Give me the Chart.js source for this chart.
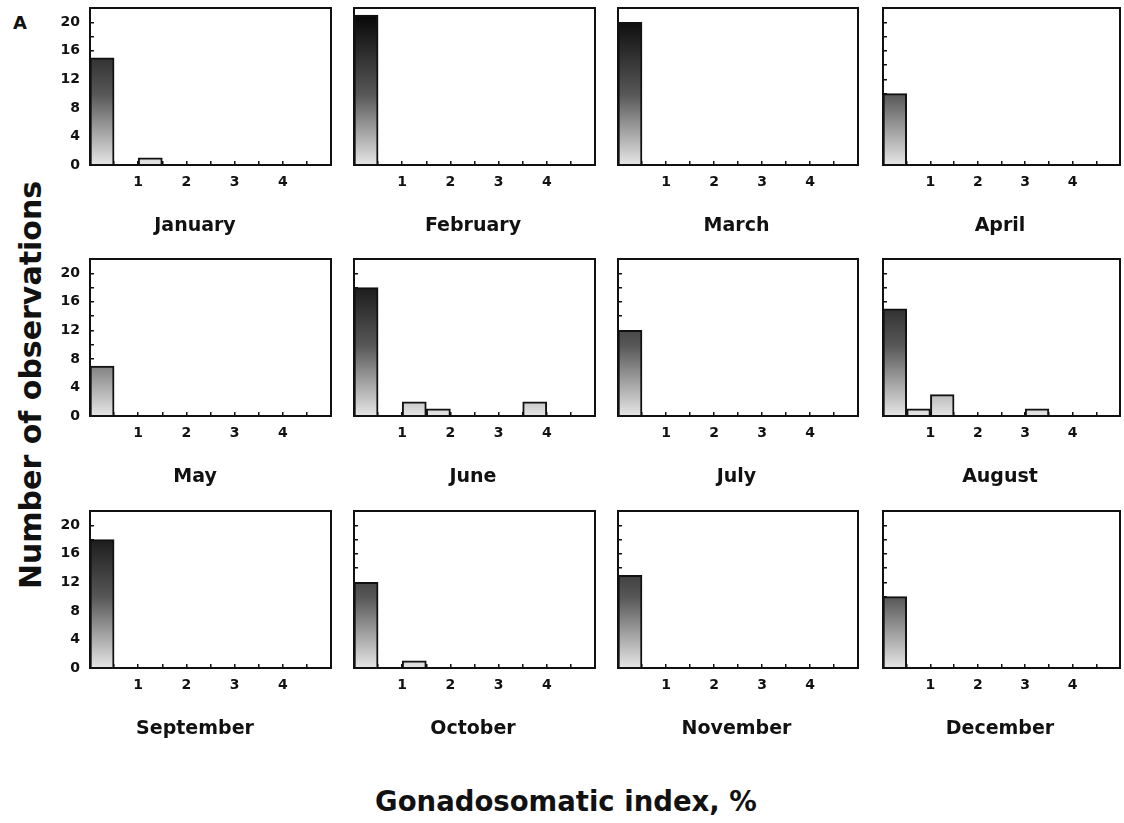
<!DOCTYPE html>
<html>
<head>
<meta charset="utf-8">
<script src="https://cdn.jsdelivr.net/npm/chart.js@4.4.1/dist/chart.umd.min.js"></script>
<style>
  html, body { margin: 0; padding: 0; background: #fff; }
  body { width: 1124px; height: 823px; position: relative; overflow: hidden;
         font-family: "DejaVu Sans", sans-serif; font-weight: bold; color: #111; }
  .panel { position: absolute; }
  .lbl { position: absolute; white-space: nowrap; }
  #tag { left: 13px; top: 14px; font-size: 18px; line-height: 18px; }
  #ytitle { left: 31px; top: 385px; font-size: 30px; line-height: 30px;
            transform: translate(-50%, -50%) rotate(-90deg); }
  #xtitle { left: 566px; top: 787px; font-size: 27.5px; line-height: 28px;
            transform: translateX(-50%); }
</style>
</head>
<body>
<div class="lbl" id="tag">A</div>
<div class="lbl" id="ytitle">Number of observations</div>
<div class="lbl" id="xtitle">Gonadosomatic index, %</div>
<script>
// Month names, one panel each
const months = ['January', 'February', 'March', 'April', 'May', 'June',
                'July', 'August', 'September', 'October', 'November', 'December'];

// Histogram bins of the gonadosomatic index (width 0.5 %), given by their midpoints
const binMids = [0.25, 0.75, 1.25, 1.75, 2.25, 2.75, 3.25, 3.75, 4.25, 4.75];

// Number of observations per bin for each month
const january   = [15, 0, 1, 0, 0, 0, 0, 0, 0, 0];
const february  = [21, 0, 0, 0, 0, 0, 0, 0, 0, 0];
const march     = [20, 0, 0, 0, 0, 0, 0, 0, 0, 0];
const april     = [10, 0, 0, 0, 0, 0, 0, 0, 0, 0];
const may       = [7, 0, 0, 0, 0, 0, 0, 0, 0, 0];
const june      = [18, 0, 2, 1, 0, 0, 0, 2, 0, 0];
const july      = [12, 0, 0, 0, 0, 0, 0, 0, 0, 0];
const august    = [15, 1, 3, 0, 0, 0, 1, 0, 0, 0];
const september = [18, 0, 0, 0, 0, 0, 0, 0, 0, 0];
const october   = [12, 0, 1, 0, 0, 0, 0, 0, 0, 0];
const november  = [13, 0, 0, 0, 0, 0, 0, 0, 0, 0];
const december  = [10, 0, 0, 0, 0, 0, 0, 0, 0, 0];
const monthCounts = [january, february, march, april, may, june,
                     july, august, september, october, november, december];

// Axis tick labels
const xTickLabels = [1, 2, 3, 4];
const yTickLabels = [0, 4, 8, 12, 16, 20];

// Panel grid geometry (plot-area rectangles on the page)
const colX = [90, 354, 618, 883];
const colW = [241, 241, 240, 237];
const rowY = [8, 259, 511];
const plotH = 157;

const FONT = '"DejaVu Sans", sans-serif';
const INK = '#111';

// Vertical grey ramp in value space: light at 0, black at the top of the axis
function rampFill(ctx) {
  const chart = ctx.chart;
  const area = chart.chartArea;
  if (!area) return '#ccc';
  if (!chart.$ramp || chart.$rampKey !== area.top + ':' + area.bottom) {
    const g = chart.ctx.createLinearGradient(0, area.bottom, 0, area.top);
    g.addColorStop(0, '#e6e6e6');
    g.addColorStop(0.45, '#575757');
    g.addColorStop(1, '#000000');
    chart.$ramp = g;
    chart.$rampKey = area.top + ':' + area.bottom;
  }
  return chart.$ramp;
}

// Closed box around each plot area
const frame = {
  id: 'frame',
  afterDatasetsDraw(chart) {
    const { ctx, chartArea: a } = chart;
    ctx.save();
    ctx.strokeStyle = INK;
    ctx.lineWidth = 2;
    ctx.strokeRect(a.left, a.top, a.right - a.left, a.bottom - a.top);
    ctx.restore();
  }
};

// Fixed scale sizes so every plot area lands on the same grid
function fixScale(s, size) {
  if (s.isHorizontal()) s.height = size; else s.width = size;
  s.paddingTop = 0; s.paddingBottom = 0; s.paddingLeft = 0; s.paddingRight = 0;
}

function makePanel(idx) {
  const col = idx % 4, row = Math.floor(idx / 4);
  const leftW = col === 0 ? 31 : 3;
  const padTop = 4, padRight = 3, padBottom = 6;
  const xAxisH = 30, titleGap = 21, titleLine = 20;
  const cw = leftW + colW[col] + padRight;
  const ch = padTop + plotH + xAxisH + titleGap + titleLine + padBottom;

  const holder = document.createElement('div');
  holder.className = 'panel';
  holder.style.left = (colX[col] - leftW) + 'px';
  holder.style.top = (rowY[row] - padTop) + 'px';
  holder.style.width = cw + 'px';
  holder.style.height = ch + 'px';
  const cv = document.createElement('canvas');
  cv.width = cw; cv.height = ch;
  cv.style.width = cw + 'px'; cv.style.height = ch + 'px';
  holder.appendChild(cv);
  document.body.appendChild(holder);

  const tickGrid = { drawOnChartArea: false, drawTicks: true, tickLength: -4, color: INK, lineWidth: 1.5 };
  const tickFont = { family: FONT, weight: 'bold', size: 14 };

  new Chart(cv, {
    type: 'bar',
    data: {
      datasets: [{
        data: monthCounts[idx].map((v, i) => ({ x: binMids[i], y: v })),
        backgroundColor: rampFill,
        borderColor: INK,
        borderWidth: 2,
        borderSkipped: 'start',
        barPercentage: 1,
        categoryPercentage: 1
      }]
    },
    options: {
      responsive: false,
      animation: false,
      devicePixelRatio: 1,
      layout: { padding: { top: padTop, right: padRight, bottom: padBottom, left: 0 } },
      scales: {
        x: {
          type: 'linear', min: 0, max: 5, offset: false,
          afterFit(s) { fixScale(s, xAxisH); },
          grid: Object.assign({ offset: false }, tickGrid),
          border: { display: true, color: INK, width: 2 },
          ticks: {
            stepSize: 0.5, autoSkip: false, maxRotation: 0, padding: 13,
            color: INK, font: tickFont,
            callback: v => xTickLabels.includes(v) ? String(v) : ''
          }
        },
        y: {
          min: 0, max: 22,
          afterFit(s) { fixScale(s, leftW); },
          grid: tickGrid,
          border: { display: true, color: INK, width: 2 },
          ticks: {
            stepSize: 2, autoSkip: false, padding: 14,
            color: INK, font: tickFont,
            callback: v => (col === 0 && yTickLabels.includes(v)) ? String(v) : ''
          }
        }
      },
      plugins: {
        legend: { display: false },
        tooltip: { enabled: false },
        title: {
          display: true, text: months[idx], position: 'bottom', color: INK,
          font: { family: FONT, weight: 'bold', size: 19, lineHeight: titleLine / 19 },
          padding: { top: titleGap, bottom: 0 }
        }
      }
    },
    plugins: [frame]
  });
}

for (let i = 0; i < months.length; i++) makePanel(i);
</script>
</body>
</html>
